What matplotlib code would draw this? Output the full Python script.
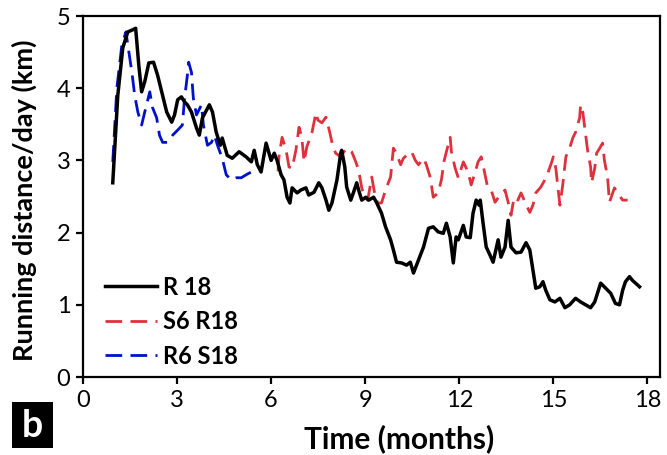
import numpy as np
import matplotlib.pyplot as plt
from matplotlib.patches import Rectangle

# R 18 (black)
r18_t = [0.95, 1.11, 1.27, 1.43, 1.59, 1.68, 1.78, 1.87, 1.97, 2.1, 2.25, 2.38, 2.54, 2.67,
         2.83, 2.92, 3.02, 3.14, 3.24, 3.33, 3.46, 3.62, 3.71, 3.81, 4.03, 4.13, 4.25, 4.38,
         4.44, 4.6, 4.76, 4.98, 5.2, 5.37, 5.46, 5.56, 5.68, 5.84, 6.0, 6.1, 6.19, 6.32, 6.41,
         6.51, 6.6, 6.67, 6.83, 6.95, 7.11, 7.2, 7.37, 7.52, 7.62, 7.75, 7.84, 7.94, 8.1, 8.22,
         8.25, 8.35, 8.41, 8.54, 8.63, 8.73, 8.79, 8.89, 9.02, 9.11, 9.27, 9.37, 9.52, 9.65,
         9.81, 9.9, 10.0, 10.16, 10.32, 10.44, 10.54, 10.7, 10.86, 11.02, 11.17, 11.33, 11.49,
         11.59, 11.71, 11.81, 11.9, 11.97, 12.13, 12.22, 12.35, 12.44, 12.54, 12.63, 12.67,
         12.76, 12.86, 12.98, 13.08, 13.24, 13.33, 13.46, 13.56, 13.65, 13.81, 13.97, 14.13,
         14.25, 14.35, 14.44, 14.57, 14.67, 14.76, 14.89, 15.05, 15.21, 15.37, 15.52, 15.71,
         15.87, 16.03, 16.19, 16.32, 16.51, 16.67, 16.83, 16.98, 17.11, 17.21, 17.3, 17.43,
         17.52, 17.75]
r18_d = [2.69, 3.9, 4.56, 4.78, 4.81, 4.83, 4.32, 3.95, 4.09, 4.35, 4.36, 4.18, 3.9, 3.67,
         3.53, 3.63, 3.84, 3.88, 3.81, 3.77, 3.67, 3.45, 3.35, 3.59, 3.77, 3.67, 3.39, 3.21,
         3.31, 3.07, 3.03, 3.12, 3.05, 2.98, 3.14, 2.94, 2.84, 3.24, 3.0, 3.1, 3.0, 2.8, 2.73,
         2.49, 2.41, 2.62, 2.55, 2.59, 2.62, 2.52, 2.56, 2.69, 2.62, 2.45, 2.31, 2.41, 2.73, 3.1,
         3.14, 2.91, 2.63, 2.45, 2.56, 2.69, 2.59, 2.45, 2.49, 2.45, 2.49, 2.41, 2.27, 2.08,
         1.9, 1.76, 1.59, 1.58, 1.55, 1.59, 1.44, 1.62, 1.8, 2.06, 2.08, 2.01, 1.99,
         2.13, 1.94, 1.58, 1.94, 1.9, 2.1, 1.94, 1.93, 2.27, 2.45, 2.38, 2.45,
         2.13, 1.8, 1.69, 1.59, 1.9, 1.66, 1.8, 2.17, 1.8, 1.72, 1.73, 1.86,
         1.76, 1.48, 1.23, 1.25, 1.32, 1.2, 1.07, 1.04, 1.09, 0.96, 1.0, 1.09,
         1.04, 1.0, 0.96, 1.04, 1.3, 1.23, 1.16, 1.02, 1.0, 1.2, 1.32, 1.39,
         1.34, 1.25]

# S6 R18 (red)
s6r18_t = [6.22, 6.25, 6.35, 6.48, 6.57, 6.67, 6.79, 6.89, 6.98, 7.05, 7.14, 7.3, 7.43, 7.49,
           7.62, 7.75, 7.87, 7.97, 8.06, 8.22, 8.32, 8.44, 8.57, 8.7, 8.79, 8.89, 8.98, 9.08,
           9.21, 9.3, 9.4, 9.52, 9.65, 9.81, 9.9, 10.0, 10.13, 10.22, 10.32, 10.48, 10.6, 10.7,
           10.86, 10.95, 11.08, 11.17, 11.33, 11.43, 11.52, 11.62, 11.71, 11.75, 11.87, 11.97,
           12.13, 12.29, 12.38, 12.51, 12.6, 12.7, 12.79, 12.89, 13.02, 13.14, 13.3, 13.46,
           13.56, 13.65, 13.75, 13.87, 13.97, 14.1, 14.25, 14.35, 14.44, 14.6, 14.73, 14.83,
           14.95, 15.0, 15.08, 15.21, 15.3, 15.4, 15.52, 15.62, 15.71, 15.84, 15.87, 15.94,
           16.0, 16.1, 16.19, 16.22, 16.32, 16.38, 16.48, 16.57, 16.63, 16.73, 16.79, 16.95,
           17.05, 17.21, 17.37]
s6r18_d = [2.85, 3.05, 3.32, 3.14, 2.91, 2.89, 3.14, 3.46, 3.32, 2.98, 3.19, 3.38, 3.66, 3.56,
           3.52, 3.6, 3.39, 3.19, 3.1, 3.05, 3.12, 3.17, 3.12, 2.98, 2.87, 2.62, 2.49, 2.45,
           2.77, 2.55, 2.41, 2.41, 2.59, 2.77, 3.17, 3.1, 2.94, 3.03, 3.07, 3.12, 3.0, 2.94,
           3.03, 2.94, 2.76, 2.49, 2.55, 2.73, 3.0, 3.17, 3.32, 3.12, 2.89, 2.76,
           2.98, 2.83, 2.66, 2.84, 2.98, 3.05, 2.87, 2.66, 2.59, 2.42, 2.52, 2.59,
           2.42, 2.24, 2.49, 2.45, 2.55, 2.42, 2.28, 2.38, 2.55, 2.63, 2.73, 2.83,
           2.98, 3.05, 2.89, 2.38, 2.66, 3.05, 3.17, 3.31, 3.39, 3.59, 3.77, 3.67,
           3.46, 3.12, 2.91, 2.69, 2.89, 3.1, 3.17, 3.24, 3.0, 2.77, 2.42, 2.62,
           2.55, 2.45, 2.45]

# R6 S18 (blue)
r6s18_t = [0.95, 1.08, 1.24, 1.37, 1.43, 1.56, 1.65, 1.75, 1.87, 1.97, 2.13, 2.22, 2.35, 2.44,
           2.54, 2.7, 2.86, 3.02, 3.17, 3.24, 3.33, 3.37, 3.46, 3.52, 3.62, 3.78, 3.84, 3.97,
           4.1, 4.19, 4.29, 4.44, 4.57, 4.73, 4.89, 5.05, 5.2, 5.37, 5.46]
r6s18_d = [2.98, 4.0, 4.6, 4.78, 4.6, 4.22, 3.9, 3.67, 3.49, 3.67, 3.95, 3.73, 3.59, 3.35,
           3.25, 3.25, 3.35, 3.42, 3.49, 3.86, 4.18, 4.36, 4.22, 3.86, 3.63, 3.77, 3.49, 3.21,
           3.25, 3.35, 3.21, 3.03, 2.8, 2.73, 2.76, 2.76, 2.8, 2.84, 2.89]

x_ticks = [0, 3, 6, 9, 12, 15, 18]
y_ticks = [0, 1, 2, 3, 4, 5]

plt.rcParams['font.family'] = ['Lato', 'DejaVu Sans']

fig = plt.figure(figsize=(6.67, 4.55), dpi=100)
ax = fig.add_axes([0.1244, 0.1714, 0.865, 0.7934])

ax.plot(r18_t, r18_d, color='black', lw=2.5, label='R 18', zorder=3)
ax.plot(s6r18_t, s6r18_d, color='#e0303c', lw=2.0, ls=(0, (6, 3)), label='S6 R18', zorder=2)
ax.plot(r6s18_t, r6s18_d, color='#0010cc', lw=2.0, ls=(0, (6, 3)), label='R6 S18', zorder=2)

ax.set_xlim(0, 18.4)
ax.set_ylim(0, 5)
ax.set_xticks(x_ticks)
ax.set_yticks(y_ticks)
ax.tick_params(direction='out', length=5, width=1.6, labelsize=17, pad=4)
for s in ax.spines.values():
    s.set_linewidth(1.6)

ax.set_xlabel('Time (months)', fontsize=21.5, fontweight='bold')
ax.xaxis.set_label_coords(0.548, -0.13)
ax.set_ylabel('Running distance/day (km)', fontsize=19.5, fontweight='bold')
ax.yaxis.set_label_coords(-0.08, 0.49)

leg = ax.legend(loc='lower left', bbox_to_anchor=(0.001, -0.033), frameon=False,
                prop={'weight': 'bold', 'size': 17}, handlelength=2.2,
                handletextpad=0.25, labelspacing=0.49)

# panel letter
fig.patches.append(Rectangle((0.018, 0.0154), 0.0615, 0.101, transform=fig.transFigure,
                             fc='black', ec='none'))
fig.text(0.0488, 0.064, 'b', color='white', fontsize=27, fontweight='bold',
         ha='center', va='center')

fig.savefig('out.png', dpi=100)
